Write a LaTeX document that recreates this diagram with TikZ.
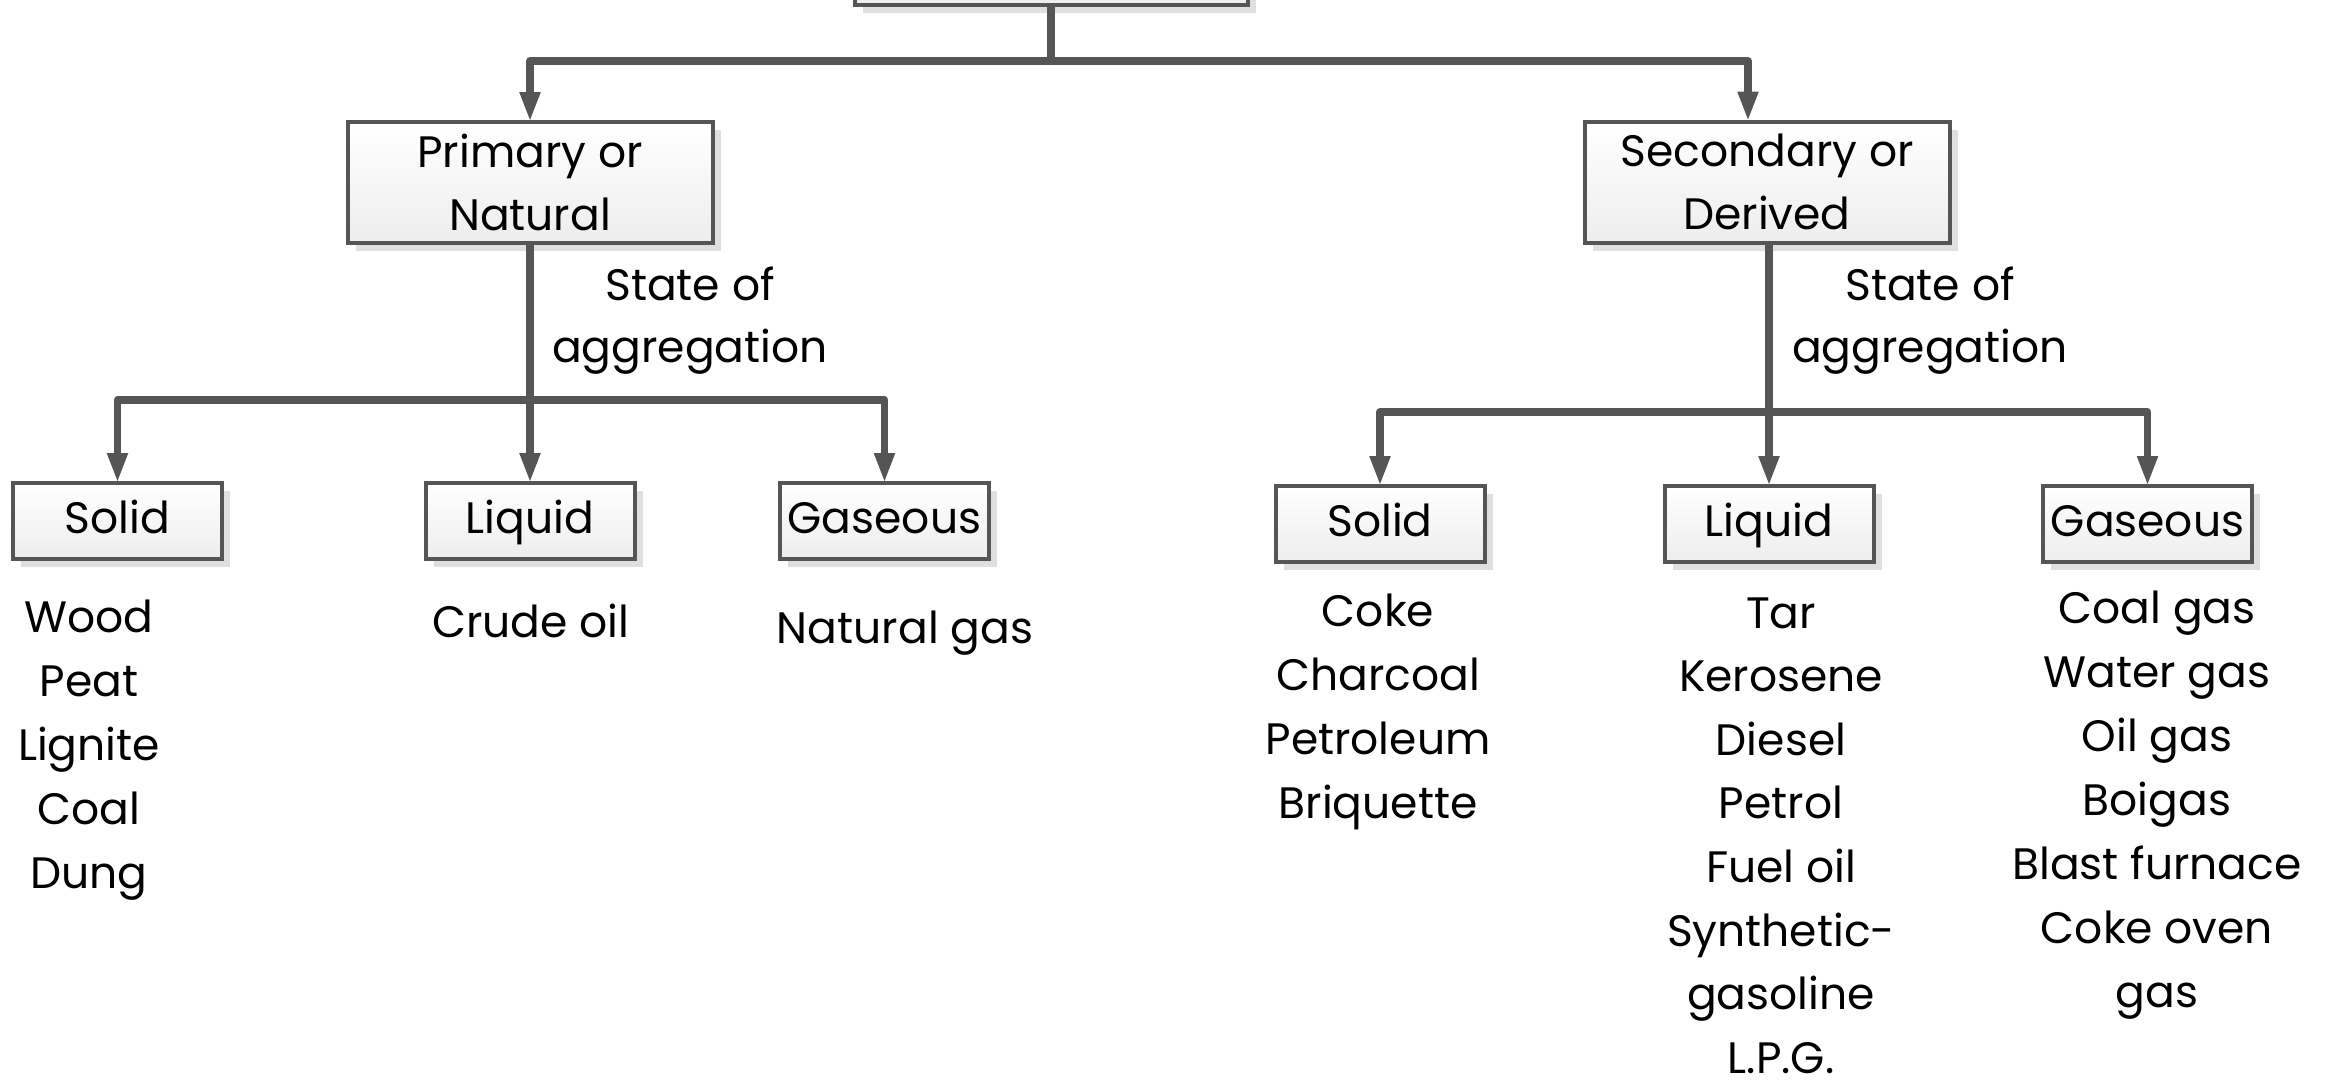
\documentclass[tikz,border=0pt]{standalone}
\usepackage{fontspec}
\setmainfont{Poppins}
\usetikzlibrary{arrows.meta,shadows}
\definecolor{ln}{HTML}{555555}
\begin{document}
\begin{tikzpicture}[x=1pt,y=-1pt,
  fbox/.style={draw=ln, line width=4pt, top color=white, bottom color=gray!14,
    drop shadow={shadow xshift=8pt, shadow yshift=-8pt, fill=gray!25, opacity=1},
    inner sep=0pt, outer sep=0pt, font=\fontsize{44}{63}\selectfont, align=center, text=black},
  bigbox/.style={fbox, minimum width=365pt, minimum height=121pt},
  smallbox/.style={fbox, minimum width=209pt, minimum height=76pt, text height=33pt, text depth=9pt},
  conn/.style={draw=ln, line width=7.5pt, line join=round},
  arr/.style={conn, -{Triangle[length=30pt,width=19pt]}},
  lbl/.style={font=\fontsize{44}{63}\selectfont, anchor=base, inner sep=0pt, text=black},
]
\useasboundingbox (0,0) rectangle (2331,1081);
\clip (0,0) rectangle (2331,1081);

% boxes
\node[fbox, minimum width=393pt, minimum height=120pt] (top) at (1051,-55) {};
\node[bigbox] (prim) at (530,182.5) {Primary or\\Natural};
\node[bigbox] (sec) at (1767,182) {Secondary or\\Derived};

\node[smallbox] (ps) at (117.5,521) {Solid};
\node[smallbox] (pl) at (530,521) {Liquid};
\node[smallbox] (pg) at (884.5,521) {Gaseous};

\node[smallbox] (ss) at (1380,524) {Solid};
\node[smallbox] (sl) at (1769,524) {Liquid};
\node[smallbox] (sg) at (2147.5,524) {Gaseous};

% junctions
\coordinate (tj) at (1051,61);
\coordinate (sa) at (1748,61);
\coordinate (pj) at (530,400);
\coordinate (sj) at (1769,412);

% top connectors
\draw[conn] (top.south) -- (tj);
\draw[arr] (tj) -| (prim.north);
\draw[arr] (tj) -- (sa) -- (sa |- sec.north);

% primary branch
\draw[conn] (prim.south) -- (pj);
\draw[arr] (pj) -| (ps.north);
\draw[arr] (pj) -- (pl.north);
\draw[arr] (pj) -| (pg.north);

% secondary branch
\draw[conn] (sec.south -| sj) -- (sj);
\draw[arr] (sj) -| (ss.north);
\draw[arr] (sj) -- (sl.north);
\draw[arr] (sj) -| (sg.north);

% state of aggregation labels
\node[lbl] (pst1) at (690,300) {State of};
\node[lbl] (pst2) at (690,362) {aggregation};
\node[lbl] (sst1) at (1930,300) {State of};
\node[lbl] (sst2) at (1930,362) {aggregation};

% lists
\foreach \t [count=\i] in {Wood,Peat,Lignite,Coal,Dung}
  \node[lbl] (pa\i) at (89,{632+64*(\i-1)}) {\t};
\node[lbl] (pb1) at (531,637) {Crude oil};
\node[lbl] (pc1) at (905,643) {Natural gas};

\foreach \t [count=\i] in {Coke,Charcoal,Petroleum,Briquette}
  \node[lbl] (sa\i) at (1378,{626+64*(\i-1)}) {\t};
\foreach \t [count=\i] in {Tar,Kerosene,Diesel,Petrol,Fuel oil,Synthetic-,gasoline,L.P.G.}
  \node[lbl] (sb\i) at (1781,{628+63.6*(\i-1)}) {\t};
\foreach \t [count=\i] in {Coal gas,Water gas,Oil gas,Boigas,Blast furnace,Coke oven,gas}
  \node[lbl] (sc\i) at (2157,{623+64*(\i-1)}) {\t};
\end{tikzpicture}
\end{document}
